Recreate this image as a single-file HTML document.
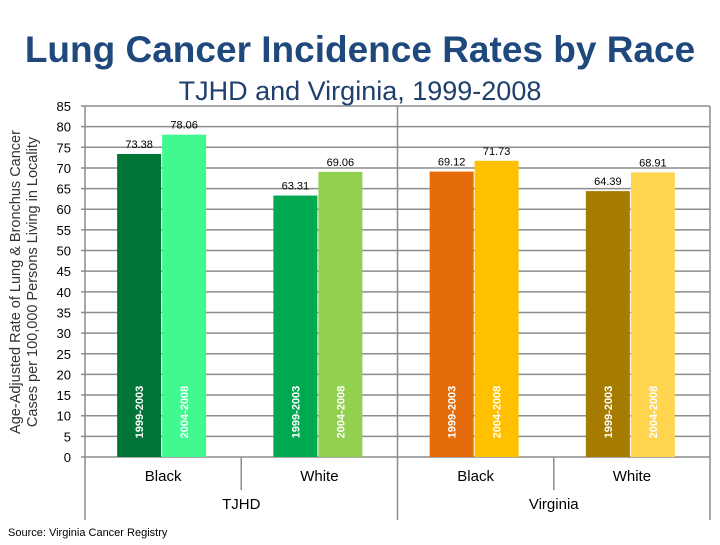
<!DOCTYPE html>
<html><head><meta charset="utf-8"><style>
body{margin:0;width:720px;height:540px;background:#fff;overflow:hidden;font-family:"Liberation Sans",sans-serif}
</style></head><body>
<svg id="c" width="720" height="540" xmlns="http://www.w3.org/2000/svg">
<text x="360" y="62" text-anchor="middle" font-size="37" font-weight="bold" fill="#1f497d">Lung Cancer Incidence Rates by Race</text>
<text x="360" y="100" text-anchor="middle" font-size="27" fill="#1f3f6d">TJHD and Virginia, 1999-2008</text>
<text transform="translate(20,282) rotate(-90)" text-anchor="middle" font-size="14.5" fill="#333"><tspan x="0" dy="0">Age-Adjusted Rate of Lung &amp; Bronchus Cancer</tspan><tspan x="0" dy="17">Cases per 100,000 Persons Living in Locality</tspan></text>
<text x="8" y="536" font-size="11" fill="#000">Source: Virginia Cancer Registry</text>
<g id="grid"></g><g id="bars"></g><g id="axes"></g>
</svg>
<script>
const ticks=[0,5,10,15,20,25,30,35,40,45,50,55,60,65,70,75,80,85];
const values=[73.38,78.06,63.31,69.06,69.12,71.73,64.39,68.91];
const valueLabels=["73.38","78.06","63.31","69.06","69.12","71.73","64.39","68.91"];
const periods=["1999-2003","2004-2008","1999-2003","2004-2008","1999-2003","2004-2008","1999-2003","2004-2008"];
const races=["Black","White","Black","White"];
const regions=["TJHD","Virginia"];
const colors=["#007536","#40fa90","#00a84f","#92d050","#e46c0a","#ffc000","#a67c00","#ffd54f"];
const NS="http://www.w3.org/2000/svg";
const X0=85,X1=710,Y0=457,Y1=106,YMAX=85;
const y=v=>Y0-(v/YMAX)*(Y0-Y1);
const groupW=(X1-X0)/4;
const barW=44;
const bx=i=>X0+groupW*Math.floor(i/2)+groupW/2-barW+(i%2)*(barW+1)-2;
function mk(t,a,p){const e=document.createElementNS(NS,t);for(const k in a)e.setAttribute(k,a[k]);p.appendChild(e);return e;}
const G=document.getElementById('grid'),B=document.getElementById('bars'),A=document.getElementById('axes');
ticks.forEach(t=>{
 const l=mk('line',{x1:X0-4,x2:X1,y1:y(t),y2:y(t),stroke:'#8c8c8c','stroke-width':1.5},G);
 
 
 const tx=mk('text',{x:X0-14,y:y(t)+5,'text-anchor':'end','font-size':13,fill:'#000'},A);
 tx.textContent=t;
 
 
});
values.forEach((v,i)=>{
 const r=mk('rect',{x:bx(i),y:y(v),width:barW,height:Y0-y(v),fill:colors[i]},B);
 
 
 const lt=mk('text',{x:bx(i)+barW/2,y:y(v)-6,'text-anchor':'middle','font-size':11,fill:'#000'},B);
 lt.textContent=valueLabels[i];
 
 
 const cx=bx(i)+barW/2+4,cy=Y0-45;
 const pt=mk('text',{x:cx,y:cy,transform:`rotate(-90 ${cx} ${cy})`,'text-anchor':'middle','font-size':11,'font-weight':'bold',fill:'#fff'},B);
 pt.textContent=periods[i];
 
 
});
mk('line',{x1:X0,x2:X0,y1:Y1,y2:520,stroke:'#8c8c8c','stroke-width':1.5},A);
const mid=(X0+X1)/2;
mk('line',{x1:mid,x2:mid,y1:Y1,y2:520,stroke:'#8c8c8c','stroke-width':1.5},A);
mk('line',{x1:X1,x2:X1,y1:Y1,y2:520,stroke:'#8c8c8c','stroke-width':1.5},A);
[1,3].forEach(k=>mk('line',{x1:X0+groupW*k,x2:X0+groupW*k,y1:Y0,y2:490,stroke:'#8c8c8c','stroke-width':1.5},A));
races.forEach((r,k)=>{
 const t=mk('text',{x:X0+groupW*(k+0.5),y:481,'text-anchor':'middle','font-size':15,fill:'#000'},A);
 t.textContent=r;
 
 
});
regions.forEach((r,k)=>{
 const t=mk('text',{x:X0+groupW*(2*k+1),y:509,'text-anchor':'middle','font-size':15,fill:'#000'},A);
 t.textContent=r;
 
 
});
</script>
</body></html>
